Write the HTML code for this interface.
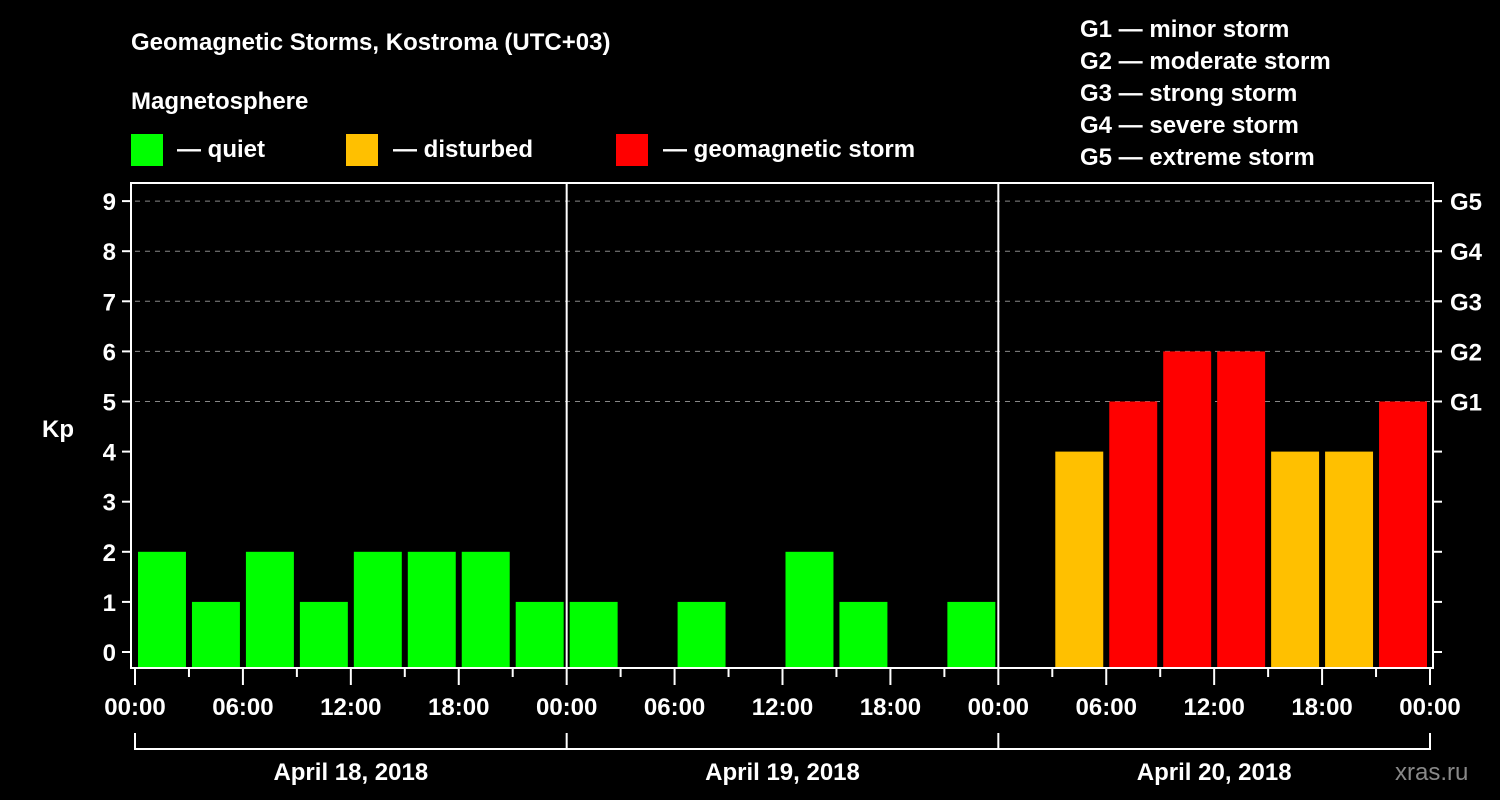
<!DOCTYPE html>
<html><head><meta charset="utf-8"><style>
html,body{margin:0;padding:0;background:#000;}
svg{display:block;font-family:"Liberation Sans",sans-serif;font-weight:bold;}
</style></head><body>
<svg id="chart" width="1500" height="800" viewBox="0 0 1500 800">
<rect x="0" y="0" width="1500" height="800" fill="#000"/>
<text x="131" y="50" fill="#fff" font-size="24">Geomagnetic Storms, Kostroma (UTC+03)</text>
<text x="131" y="109" fill="#fff" font-size="24">Magnetosphere</text>
<rect x="131" y="134" width="32" height="32" fill="#00ff00"/>
<text x="177" y="157" fill="#fff" font-size="24">— quiet</text>
<rect x="346" y="134" width="32" height="32" fill="#ffc000"/>
<text x="393" y="157" fill="#fff" font-size="24">— disturbed</text>
<rect x="616" y="134" width="32" height="32" fill="#ff0000"/>
<text x="663" y="157" fill="#fff" font-size="24">— geomagnetic storm</text>
<g fill="#fff" font-size="24">
<text x="1080" y="37">G1 — minor storm</text>
<text x="1080" y="69">G2 — moderate storm</text>
<text x="1080" y="101">G3 — strong storm</text>
<text x="1080" y="133">G4 — severe storm</text>
<text x="1080" y="165">G5 — extreme storm</text>
</g>
<text x="42" y="437" fill="#fff" font-size="24">Kp</text>
<text x="1395" y="780" fill="#888" font-size="24" font-weight="normal">xras.ru</text>
<g id="grid"></g>
<g id="bars"></g>
<g id="axes"></g>
</svg>
<script>
const kpValues = [2,1,2,1,2,2,2,1, 1,0,1,0,2,1,0,1, 0,4,5,6,6,4,4,5];
const dayLabels = ["April 18, 2018","April 19, 2018","April 20, 2018"];
const hourLabels = ["00:00","06:00","12:00","18:00"];
const yTicks = [0,1,2,3,4,5,6,7,8,9];
const gLabels = ["G1","G2","G3","G4","G5"];
const gLevels = [5,6,7,8,9];

const NS="http://www.w3.org/2000/svg";
const X0=135, X1=1430, PT=183, PB=668;
const nDays=dayLabels.length;
function xH(h){return X0+(X1-X0)*h/(24*nDays);}
function yK(v){return 652-50.1*v;}
function mk(tag,attrs,parent){const e=document.createElementNS(NS,tag);for(const k in attrs)e.setAttribute(k,attrs[k]);parent.appendChild(e);return e;}
const grid=document.getElementById('grid'),bars=document.getElementById('bars'),axes=document.getElementById('axes');

gLevels.forEach((v,i)=>{
  const l=mk('line',{x1:X0,x2:X1,y1:yK(v),y2:yK(v),stroke:'#888','stroke-width':1,'stroke-dasharray':'5,5'},grid);
  
  
  const t=mk('line',{x1:1433,x2:1442,y1:yK(v),y2:yK(v),stroke:'#fff','stroke-width':2},axes);
  
  
  const tx=mk('text',{x:1450,y:yK(v)+9,fill:'#fff','font-size':24},axes);
  tx.textContent=gLabels[i];
  
  
});
kpValues.forEach((v,i)=>{
  if(v<=0)return;
  const c=v>=5?'#ff0000':(v>=4?'#ffc000':'#00ff00');
  const x=xH(3*i)+3, w=xH(3*i+3)-xH(3*i)-6;
  const r=mk('rect',{x:x,y:yK(v),width:w,height:PB-yK(v),fill:c},bars);
  
  
});
yTicks.forEach(v=>{
  const t=mk('line',{x1:122,x2:131,y1:yK(v),y2:yK(v),stroke:'#fff','stroke-width':2},axes);
  
  
  const t2=mk('line',{x1:1433,x2:1442,y1:yK(v),y2:yK(v),stroke:'#fff','stroke-width':2},axes);
  
  
  const tx=mk('text',{x:116,y:yK(v)+9,fill:'#fff','font-size':24,'text-anchor':'end'},axes);
  tx.textContent=v;
  
  
});
const fr=mk('rect',{x:131,y:PT,width:1433-131,height:PB-PT,fill:'none',stroke:'#fff','stroke-width':2},axes);


for(let d=1;d<nDays;d++){
  const l=mk('line',{x1:xH(24*d),x2:xH(24*d),y1:PT,y2:PB,stroke:'#fff','stroke-width':2},axes);
  
  
}
for(let i=0;i<=nDays*8;i++){
  const x=xH(3*i), major=i%2===0;
  const t=mk('line',{x1:x,x2:x,y1:PB,y2:major?685:677,stroke:'#fff','stroke-width':2},axes);
  
  
  if(major){
    const tx=mk('text',{x:x,y:715,fill:'#fff','font-size':24,'text-anchor':'middle'},axes);
    tx.textContent=hourLabels[(i/2)%4];
    
    
  }
}
const br=mk('line',{x1:X0,x2:X1,y1:749,y2:749,stroke:'#fff','stroke-width':2},axes);


for(let d=0;d<=nDays;d++){
  const l=mk('line',{x1:xH(24*d),x2:xH(24*d),y1:733,y2:750,stroke:'#fff','stroke-width':2},axes);
  
  
}
dayLabels.forEach((s,d)=>{
  const tx=mk('text',{x:xH(24*d+12),y:780,fill:'#fff','font-size':24,'text-anchor':'middle'},axes);
  tx.textContent=s;
  
  
});
</script>
</body></html>
